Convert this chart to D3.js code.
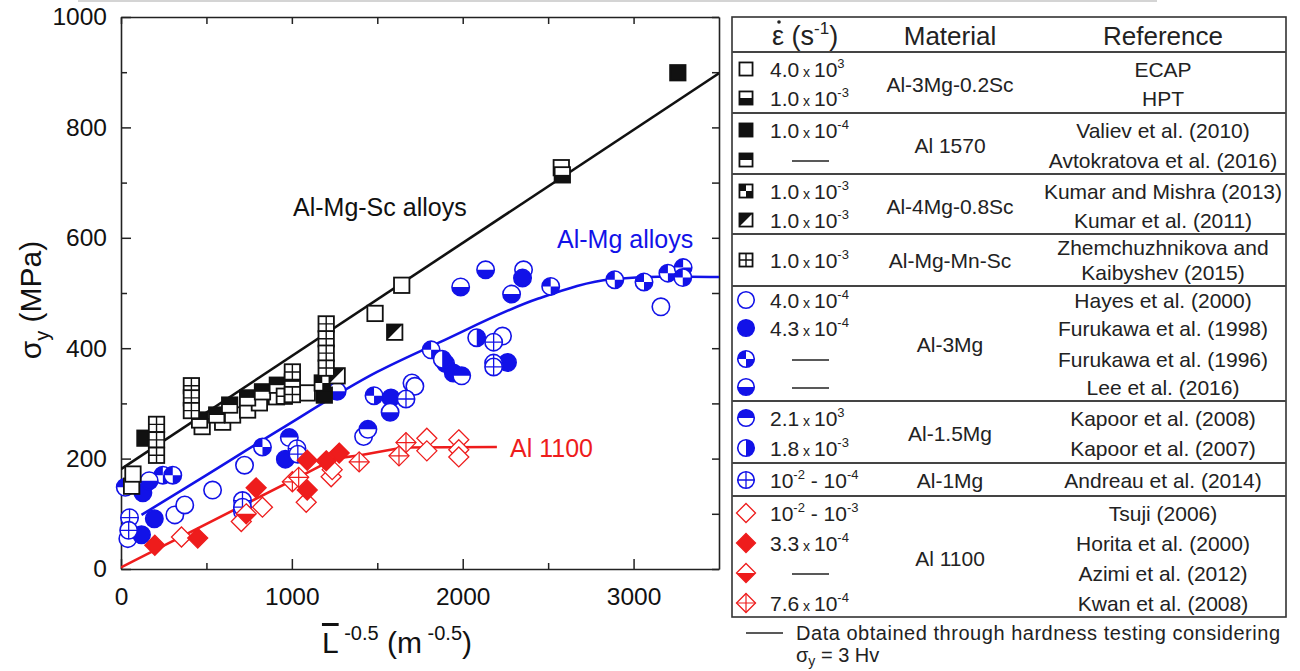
<!DOCTYPE html>
<meta charset="utf-8">
<script src="https://d3js.org/d3.v7.min.js"></script>
<style>
  body { margin: 0; background: #fff; }
  svg text { font-family: "Liberation Sans", Arial, sans-serif; }
</style>
<div id="my_dataviz"></div>
<script>

// ---- data: [L^-0.5 (m^-0.5), sigma_y (MPa)] ----
// Al-Mg-Sc alloys (black squares)
var ecapPts = [[62,150],[70,172],[475,258],[595,266],[653,279],[741,288],[810,301],[910,312],[1090,319],[1487,463],[1643,514],[2577,727]];
var hptPts = [[2583,714]];
var valievPts = [[140,237],[1190,315],[3259,899]];
var avtokratovaPts = [[460,270],[560,279],[636,297],[741,310],[828,321],[915,333],[1003,339]];
var kumarMishraPts = [[1178,337]];
var kumar2011Pts = [[1265,350],[1602,429]];
var zhemPts = [[208,262],[208,234],[208,206],[412,332],[412,310],[412,287],[956,313],[1003,316],[1003,357],[1201,444],[1201,417],[1201,391],[1201,364]];
// Al-Mg alloys (blue circles)
var hayesPts = [[40,55],[315,98],[373,116],[536,143],[711,104],[723,188],[1420,240],[1703,337],[1720,331],[2233,422],[2356,542],[3160,475]];
var furukawa98Pts = [[120,62],[128,138],[195,91],[962,199],[1580,310],[1900,372],[1945,355],[2262,374],[2350,527]];
var furukawa96Pts = [[245,170],[303,170],[828,221],[1481,314],[1815,397],[2515,512],[2890,524],[3061,520],[3201,536],[3290,546],[3288,528]];
var leePts = [[165,160],[1265,322],[1575,284],[1988,511],[2134,542],[2286,498]];
var kapoor08Pts = [[25,148],[985,238],[1445,253],[1994,350]];
var kapoor07Pts = [[1880,380],[2082,419]];
var andreauPts = [[50,93],[45,70],[711,124],[711,112],[1030,218],[1035,208],[1668,308],[2181,411],[2181,373],[2181,366]];
// Al 1100 (red diamonds)
var tsujiPts = [[354,58],[704,86],[828,112],[1084,121],[1230,167],[1236,180],[1790,237],[1790,214],[1977,234],[1977,216],[1977,203]];
var horitaPts = [[198,43],[449,56],[791,147],[1090,143],[1090,197],[1201,196],[1277,210]];
var azimiPts = [[733,100]];
var kwanPts = [[1003,158],[1040,166],[1394,194],[1627,205],[1668,229]];

// trend lines
var fitAlMgSc = [[0,181],[3500,898]];
var fitAlMg = [[120,98],[500,170],[927,252],[1499,357],[1860,410],[2443,490],[2869,525],[3200,530],[3500,529]];
var fitAl1100 = [[0,3],[1100,176],[1250,200],[1400,206],[1650,220],[2200,221]];

// ticks
var xTicks = [0, 1000, 2000, 3000];
var xMinor = [500, 1500, 2500];
var yTicks = [0, 200, 400, 600, 800, 1000];
var yMinor = [100, 300, 500, 700, 900];

// legend table
var markerKeys = ["sqOpen","sqBottom","sqFilled","sqTop","sqChecker","sqDiag","sqGrid",
                  "ciOpen","ciFilled","ciChecker","ciBottom","ciTop","ciRight","ciPlus",
                  "diOpen","diFilled","diBottom","diPlus"];
var rates = ["4.0 x 10^3","1.0 x 10^-3","1.0 x 10^-4","—","1.0 x 10^-3","1.0 x 10^-3","1.0 x 10^-3",
             "4.0 x 10^-4","4.3 x 10^-4","—","—","2.1 x 10^3","1.8 x 10^-3","10^-2 - 10^-4",
             "10^-2 - 10^-3","3.3 x 10^-4","—","7.6 x 10^-4"];
var references = ["ECAP","HPT","Valiev et al. (2010)","Avtokratova et al. (2016)","Kumar and Mishra (2013)",
                  "Kumar et al. (2011)","Zhemchuzhnikova and|Kaibyshev (2015)","Hayes et al. (2000)",
                  "Furukawa et al. (1998)","Furukawa et al. (1996)","Lee et al. (2016)","Kapoor et al. (2008)",
                  "Kapoor et al. (2007)","Andreau et al. (2014)","Tsuji (2006)","Horita et al. (2000)",
                  "Azimi et al. (2012)","Kwan et al. (2008)"];
var materials = ["Al-3Mg-0.2Sc","Al 1570","Al-4Mg-0.8Sc","Al-Mg-Mn-Sc","Al-3Mg","Al-1.5Mg","Al-1Mg","Al 1100"];
var groupSizes = [2, 2, 2, 1, 4, 2, 1, 4];

var seriesPts = {
  sqOpen: ecapPts, sqBottom: hptPts, sqFilled: valievPts, sqTop: avtokratovaPts,
  sqChecker: kumarMishraPts, sqDiag: kumar2011Pts, sqGrid: zhemPts,
  ciOpen: hayesPts, ciFilled: furukawa98Pts, ciChecker: furukawa96Pts, ciBottom: leePts,
  ciTop: kapoor08Pts, ciRight: kapoor07Pts, ciPlus: andreauPts,
  diOpen: tsujiPts, diFilled: horitaPts, diBottom: azimiPts, diPlus: kwanPts
};

var BLACK = "#111", BLUE = "#1212e8", RED = "#ee1c1c";
function colorOf(k) { return k.slice(0,2) === "sq" ? BLACK : (k.slice(0,2) === "ci" ? BLUE : RED); }

var svg = d3.select("#my_dataviz").append("svg")
    .attr("width", 1300).attr("height", 671);

// faint page border at the top of the scan
svg.append("line").attr("x1", 78).attr("x2", 1157).attr("y1", 1).attr("y2", 1)
   .attr("stroke", "#d4d4d4").attr("stroke-width", 2);

var x = d3.scaleLinear().domain([0, 3500]).range([121, 719]);
var y = d3.scaleLinear().domain([0, 1000]).range([569, 17]);
var fmt = d3.format("d");

// ---- axes, ticks pointing inward on all four sides ----
function styleAxis(g) {
  g.select(".domain").attr("stroke", "#222").attr("stroke-width", 1.6);
  g.selectAll(".tick line").attr("stroke", "#222").attr("stroke-width", 1.5);
  g.selectAll(".tick text").attr("fill", "#111").style("font-size", "24.5px");
}
svg.append("g").attr("transform", "translate(0,569)")
  .call(d3.axisBottom(x).tickValues(xTicks).tickFormat(fmt).tickSize(-10).tickSizeOuter(0).tickPadding(19))
  .call(styleAxis);
svg.append("g").attr("transform", "translate(0,569)")
  .call(d3.axisBottom(x).tickValues(xMinor).tickSize(-6).tickFormat(""))
  .call(styleAxis).select(".domain").remove();
svg.append("g").attr("transform", "translate(0,17)")
  .call(d3.axisTop(x).tickValues(xTicks.concat(xMinor)).tickSize(-7).tickSizeOuter(0).tickFormat(""))
  .call(styleAxis);
svg.append("g").attr("transform", "translate(121,0)")
  .call(d3.axisLeft(y).tickValues(yTicks).tickFormat(fmt).tickSize(-10).tickSizeOuter(0).tickPadding(14))
  .call(styleAxis);
svg.append("g").attr("transform", "translate(121,0)")
  .call(d3.axisLeft(y).tickValues(yMinor).tickSize(-6).tickFormat(""))
  .call(styleAxis).select(".domain").remove();
svg.append("g").attr("transform", "translate(719,0)")
  .call(d3.axisRight(y).tickValues(yTicks.concat(yMinor)).tickSize(-7).tickSizeOuter(0).tickFormat(""))
  .call(styleAxis);

// axis titles
var yt = svg.append("text").attr("transform", "translate(41,300) rotate(-90)")
   .attr("text-anchor", "middle").style("font-size", "30px").attr("fill", "#111");
yt.append("tspan").text("σ");
yt.append("tspan").attr("dy", 8).style("font-size", "20px").text("y");
yt.append("tspan").attr("dy", -8).text(" (MPa)");

var xt = svg.append("text").attr("x", 397).attr("y", 653)
   .attr("text-anchor", "middle").style("font-size", "30px").attr("fill", "#111");
xt.append("tspan").style("text-decoration", "overline").text("L");
xt.append("tspan").attr("dy", -13).style("font-size", "20px").text(" -0.5");
xt.append("tspan").attr("dy", 13).text(" (m");
xt.append("tspan").attr("dy", -13).style("font-size", "20px").text(" -0.5");
xt.append("tspan").attr("dy", 13).text(")");

// ---- trend lines ----
svg.append("clipPath").attr("id", "plotclip").append("rect")
   .attr("x", 121).attr("y", 17).attr("width", 598).attr("height", 552);
var lines = svg.append("g").attr("clip-path", "url(#plotclip)");
function addFit(pts, color, curve) {
  lines.append("path").datum(pts)
    .attr("fill", "none").attr("stroke", color).attr("stroke-width", 2.6)
    .attr("d", d3.line().x(function(d){ return x(d[0]); }).y(function(d){ return y(d[1]); }).curve(curve));
}
addFit(fitAlMgSc, BLACK, d3.curveLinear);
addFit(fitAlMg, BLUE, d3.curveMonotoneX);
addFit(fitAl1100, RED, d3.curveLinear);

// ---- marker drawing ----
function addMarker(g, key, scale) {
  var shape = key.slice(0,2), pat = key.slice(2), c = colorOf(key);
  scale = scale || 1;
  if (shape === "sq") {
    var h = 7.7 * scale;
    g.append("rect").attr("x", -h).attr("y", -h).attr("width", 2*h).attr("height", 2*h)
      .attr("fill", pat === "Filled" ? c : "#fff");
    var p = null;
    if (pat === "Bottom") p = "M"+(-h)+",0H"+h+"V"+h+"H"+(-h)+"Z";
    if (pat === "Top") p = "M"+(-h)+","+(-h)+"H"+h+"V0H"+(-h)+"Z";
    if (pat === "Checker") p = "M"+(-h)+","+(-h)+"H0V0H"+(-h)+"Z M0,0H"+h+"V"+h+"H0Z";
    if (pat === "Diag") p = "M"+(-h)+","+(-h)+"H"+h+"L"+(-h)+","+h+"Z";
    if (p) g.append("path").attr("d", p).attr("fill", c);
    if (pat === "Grid") g.append("path").attr("d", "M0,"+(-h)+"V"+h+"M"+(-h)+",0H"+h)
      .attr("stroke", c).attr("stroke-width", 1.4);
    g.append("rect").attr("x", -h).attr("y", -h).attr("width", 2*h).attr("height", 2*h)
      .attr("fill", "none").attr("stroke", c).attr("stroke-width", 1.8);
  } else if (shape === "ci") {
    var r = 8.7 * scale;
    g.append("circle").attr("r", r).attr("fill", pat === "Filled" ? c : "#fff");
    var q = null;
    if (pat === "Bottom") q = "M"+(-r)+",0A"+r+","+r+" 0 0 0 "+r+",0Z";
    if (pat === "Top") q = "M"+(-r)+",0A"+r+","+r+" 0 0 1 "+r+",0Z";
    if (pat === "Right") q = "M0,"+(-r)+"A"+r+","+r+" 0 0 1 0,"+r+"Z";
    if (pat === "Checker") q = "M0,0L"+(-r)+",0A"+r+","+r+" 0 0 1 0,"+(-r)+"Z M0,0L"+r+",0A"+r+","+r+" 0 0 1 0,"+r+"Z";
    if (q) g.append("path").attr("d", q).attr("fill", c);
    if (pat === "Plus") g.append("path").attr("d", "M0,"+(-r)+"V"+r+"M"+(-r)+",0H"+r)
      .attr("stroke", c).attr("stroke-width", 1.3);
    g.append("circle").attr("r", r).attr("fill", "none").attr("stroke", c).attr("stroke-width", 1.6);
  } else {
    var d = 10 * scale;
    var dia = "M0,"+(-d)+"L"+d+",0L0,"+d+"L"+(-d)+",0Z";
    g.append("path").attr("d", dia).attr("fill", pat === "Filled" ? c : "#fff");
    if (pat === "Bottom") g.append("path").attr("d", "M"+(-d)+",0L"+d+",0L0,"+d+"Z").attr("fill", c);
    if (pat === "Plus") g.append("path").attr("d", "M0,"+(-d)+"V"+d+"M"+(-d)+",0H"+d)
      .attr("stroke", c).attr("stroke-width", 1.2);
    g.append("path").attr("d", dia).attr("fill", "none").attr("stroke", c).attr("stroke-width", 1.3);
  }
}

// draw order: blue, red, then black on top
var drawOrder = markerKeys.filter(function(k){ return k.slice(0,2) === "ci"; })
  .concat(markerKeys.filter(function(k){ return k.slice(0,2) === "di"; }))
  .concat(markerKeys.filter(function(k){ return k.slice(0,2) === "sq"; }));
var pts = svg.append("g");
drawOrder.forEach(function(k) {
  pts.append("g").selectAll("g").data(seriesPts[k]).enter().append("g")
    .attr("transform", function(d){ return "translate(" + x(d[0]) + "," + y(d[1]) + ")"; })
    .each(function(){ addMarker(d3.select(this), k); });
});

// annotations
svg.append("text").attr("x", 293).attr("y", 216).style("font-size", "25px").attr("fill", BLACK).text("Al-Mg-Sc alloys");
svg.append("text").attr("x", 557).attr("y", 248).style("font-size", "25px").attr("fill", BLUE).text("Al-Mg alloys");
svg.append("text").attr("x", 510).attr("y", 457).style("font-size", "25px").attr("fill", RED).text("Al 1100");

// ---- legend table ----
var tbl = svg.append("g");
var rowY = [69, 98, 130, 160, 191, 220, 260, 300, 328, 359, 387, 418, 448, 480, 513, 543, 573, 603];
var sepY = [52, 113, 174, 234, 286, 401, 463, 496];

tbl.append("rect").attr("x", 732).attr("y", 17).attr("width", 554).attr("height", 600)
   .attr("fill", "none").attr("stroke", "#333").attr("stroke-width", 1.6);
sepY.forEach(function(s) {
  tbl.append("line").attr("x1", 732).attr("x2", 1286).attr("y1", s).attr("y2", s)
     .attr("stroke", "#444").attr("stroke-width", 2);
});

// header: epsilon with a dot above, then (s^-1)
var h1 = tbl.append("text").attr("x", 772).attr("y", 45)
   .style("font-size", "27px").attr("fill", "#222");
h1.append("tspan").text("ε");
tbl.append("circle").attr("cx", 779).attr("cy", 22).attr("r", 1.8).attr("fill", "#222");
h1.append("tspan").text(" (s");
h1.append("tspan").attr("dy", -11).style("font-size", "17px").text("-1");
h1.append("tspan").attr("dy", 11).text(")");
tbl.append("text").attr("x", 950).attr("y", 45).attr("text-anchor", "middle")
   .style("font-size", "26px").attr("fill", "#222").text("Material");
tbl.append("text").attr("x", 1163).attr("y", 45).attr("text-anchor", "middle")
   .style("font-size", "26px").attr("fill", "#222").text("Reference");

markerKeys.forEach(function(k, i) {
  var g = tbl.append("g").attr("transform", "translate(746," + rowY[i] + ")");
  addMarker(g, k, k.slice(0,2) === "sq" ? 0.85 : 0.95);

  // strain rate
  if (rates[i] === "—") {
    tbl.append("line").attr("x1", 792).attr("x2", 829).attr("y1", rowY[i] + 1).attr("y2", rowY[i] + 1)
       .attr("stroke", "#222").attr("stroke-width", 1.6);
  } else {
    var t = tbl.append("text").attr("x", 770).attr("y", rowY[i] + 8).attr("fill", "#222").style("font-size", "21px");
    var shift = 0;
    rates[i].split(/(\^-?\d+| x )/).forEach(function(tok) {
      if (!tok) return;
      if (tok[0] === "^") {
        t.append("tspan").attr("dy", -9 - shift).style("font-size", "13px").text(tok.slice(1));
        shift = -9;
      } else if (tok === " x ") {
        t.append("tspan").attr("dy", -shift).style("font-size", "14px").text(" x ");
        shift = 0;
      } else {
        t.append("tspan").attr("dy", -shift).text(tok);
        shift = 0;
      }
    });
  }

  // reference (may be two lines)
  var parts = references[i].split("|");
  parts.forEach(function(p, j) {
    var off = parts.length === 1 ? 0 : (j === 0 ? -13 : 12);
    tbl.append("text").attr("x", 1163).attr("y", rowY[i] + off + 8).attr("text-anchor", "middle")
       .style("font-size", "21px").attr("fill", "#222").text(p);
  });
});

// material names centred on their row group
var start = 0;
materials.forEach(function(m, gi) {
  var rows = rowY.slice(start, start + groupSizes[gi]);
  var cy = (rows[0] + rows[rows.length - 1]) / 2;
  tbl.append("text").attr("x", 950).attr("y", cy + 8).attr("text-anchor", "middle")
     .style("font-size", "21px").attr("fill", "#222").text(m);
  start += groupSizes[gi];
});

// footnote
tbl.append("line").attr("x1", 746).attr("x2", 783).attr("y1", 633).attr("y2", 633)
   .attr("stroke", "#222").attr("stroke-width", 1.6);
tbl.append("text").attr("x", 796).attr("y", 640).attr("textLength", 484).attr("lengthAdjust", "spacing")
   .style("font-size", "20px").attr("fill", "#222").text("Data obtained through hardness testing considering");
var fn = tbl.append("text").attr("x", 796).attr("y", 662).style("font-size", "20px").attr("fill", "#222");
fn.append("tspan").text("σ");
fn.append("tspan").attr("dy", 4).style("font-size", "14px").text("y");
fn.append("tspan").attr("dy", -4).text(" = 3 Hv");

</script>
